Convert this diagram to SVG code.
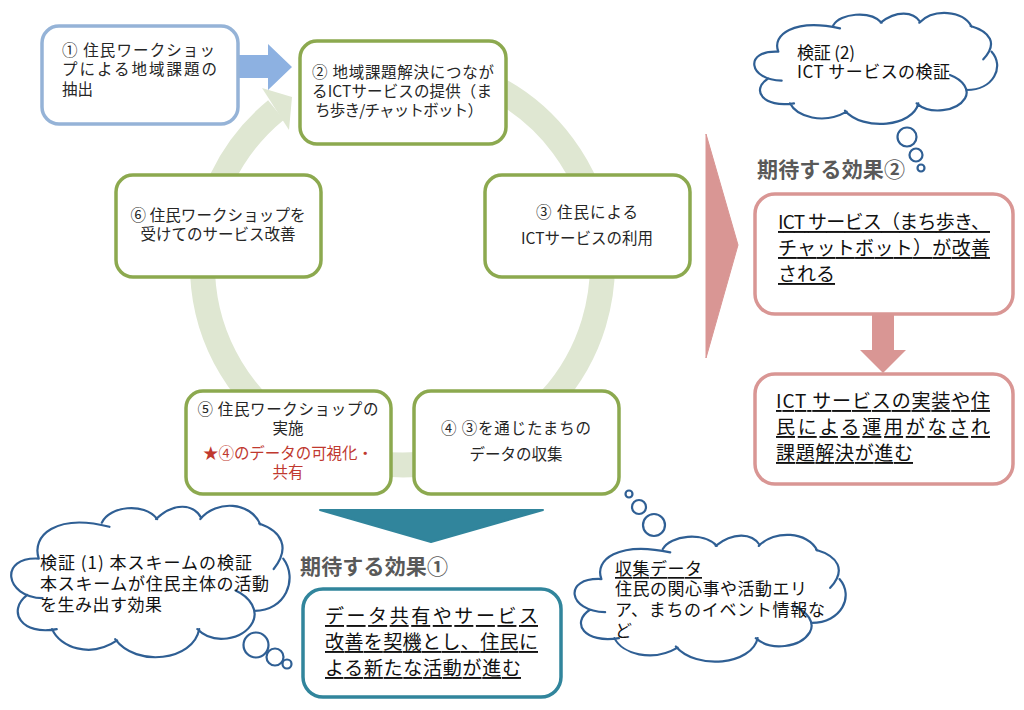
<svg xmlns="http://www.w3.org/2000/svg" width="1024" height="710" viewBox="0 0 1024 710">
<style>
text{font-family:"Noto Sans CJK JP","Liberation Sans",sans-serif;font-size:15.5px;fill:#262626;dominant-baseline:central;transform:translateY(-1.5px)}
.c{text-anchor:middle}
.g{fill:#fff;stroke:#8CA94F;stroke-width:3.5}
.p{fill:#fff;stroke:#D99694;stroke-width:3.5}
.cl{fill:#fff;stroke:none}
.ca{fill:none;stroke:#2F5F94;stroke-width:2.2;vector-effect:non-scaling-stroke;stroke-linecap:round}
.bub{fill:#fff;stroke:#2F5F94;stroke-width:2.2}
.big{font-size:19px;fill:#111;text-decoration:underline}
.ct{font-size:17px;fill:#111}
.ttl{font-size:21px;font-weight:700;fill:#595959}
</style>
<defs>
<g id="cloud">
<path class="cl" d="M235 155C215 105 280 55 400 78C420 40 510 30 545 65C590 30 640 35 660 65C700 25 790 30 815 80C870 95 895 130 875 155C915 200 880 270 800 270C800 310 710 350 650 325C610 390 480 395 435 335C370 375 290 350 270 310C190 320 160 270 205 235C145 225 150 150 235 155Z"/>
<path class="ca" d="M235 155C215 105 280 55 420 85M400 76C420 40 510 30 545 68M542 68C590 30 640 35 660 65M658 68C700 25 790 30 815 80M812 78C870 95 895 130 850 178M875 155C915 200 880 270 800 270M750 225C790 240 810 270 795 295C770 335 690 345 650 310M655 310C640 380 490 395 435 332M440 335C370 375 290 350 270 310M282 310C190 325 150 270 205 235M245 242C145 240 130 150 235 155"/>
</g>
</defs>
<g id="connectors">
<path d="M402 65A200 200 0 1 1 276 110" fill="none" stroke="#DFE7D2" stroke-width="25"/>
<path d="M262 88L292 97L289 130Z" fill="#DFE7D2"/>
<path d="M238 55H268V44L292 67L268 90V78H238Z" fill="#8DB1E1"/>
<path d="M706 134L738 245L706 358Z" fill="#D99694" stroke="#D99694" stroke-linejoin="round"/>
<path d="M872 311H894V350H906L883 373L860 350H872Z" fill="#D99694"/>
<path d="M320 510H543L431 542Z" fill="#31859C" stroke="#31859C" stroke-width="2" stroke-linejoin="round"/>
</g>
<g id="n1"><rect x="42" y="26" width="196" height="98" rx="17" fill="#fff" stroke="#95B3D7" stroke-width="3.5"/>
<text x="62" y="50" textLength="153">①  住民ワークショッ</text><text x="62" y="69" textLength="155">プによる地域課題の</text><text x="62" y="89">抽出</text></g>
<g id="n2"><rect x="300" y="41" width="206" height="103" rx="17" class="g"/>
<text x="312" y="72" textLength="182">②  地域課題解決につなが</text><text x="312" y="91" textLength="180">るICTサービスの提供（ま</text><text x="315" y="110" textLength="168">ち歩き/チャットボット）</text></g>
<g id="n3"><rect x="485" y="175" width="205" height="102" rx="17" class="g"/>
<text class="c" x="587" y="212" textLength="102">③ 住民による</text><text class="c" x="587" y="238">ICTサービスの利用</text></g>
<g id="n4"><rect x="414" y="391" width="205" height="103" rx="17" class="g"/>
<text class="c" x="516" y="428" textLength="150">④  ③を通じたまちの</text><text class="c" x="516" y="454">データの収集</text></g>
<g id="n5"><rect x="186" y="391" width="205" height="103" rx="17" class="g"/>
<text class="c" x="288" y="409" textLength="181">⑤  住民ワークショップの</text><text class="c" x="288" y="428">実施</text>
<text class="c" x="288" y="453" textLength="170" style="fill:#C0392F">★④のデータの可視化・</text><text class="c" x="288" y="472" style="fill:#C0392F">共有</text></g>
<g id="n6"><rect x="116" y="175" width="205" height="102" rx="17" class="g"/>
<text class="c" x="218" y="215" textLength="175">⑥ 住民ワークショップを</text><text class="c" x="218" y="234">受けてのサービス改善</text></g>
<g id="e2"><text class="ttl" x="757" y="169" textLength="148">期待する効果②</text>
<rect x="755" y="194" width="258" height="120" rx="20" class="p"/>
<text class="big" x="778" y="222" textLength="212">ICT サービス（まち歩き、</text><text class="big" x="778" y="248" textLength="212">チャットボット）が改善</text><text class="big" x="778" y="274">される</text></g>
<g id="e3"><rect x="755" y="374" width="258" height="110" rx="20" class="p"/>
<text class="big" x="776" y="401" textLength="214">ICT サービスの実装や住</text><text class="big" x="776" y="427" textLength="214">民による運用がなされ</text><text class="big" x="776" y="453" textLength="137">課題解決が進む</text></g>
<g id="e1"><text class="ttl" x="300" y="566" textLength="148">期待する効果①</text>
<rect x="303" y="589" width="258" height="108" rx="20" fill="#fff" stroke="#31859C" stroke-width="3.5"/>
<text class="big" x="325" y="616" textLength="213">データ共有やサービス</text><text class="big" x="325" y="642" textLength="213">改善を契機とし、住民に</text><text class="big" x="325" y="668" textLength="196">よる新たな活動が進む</text></g>
<g id="c1"><use href="#cloud" transform="translate(700 0) scale(.3333)"/>
<circle class="bub" cx="907" cy="137" r="9.5"/><circle class="bub" cx="916" cy="155" r="6.5"/><circle class="bub" cx="921" cy="168" r="3.5"/>
<text class="ct" x="797" y="53" textLength="58">検証 (2)</text><text class="ct" x="797" y="72" textLength="153">ICT サービスの検証</text></g>
<g id="c2"><use href="#cloud" transform="translate(-51 488.1) scale(.382 .4548)"/>
<circle class="bub" cx="256" cy="645" r="12.5"/><circle class="bub" cx="275" cy="657" r="8.5"/><circle class="bub" cx="287" cy="664" r="4.5"/>
<text class="ct" x="40" y="563" textLength="212">検証 (1)  本スキームの検証</text><text class="ct" x="40" y="584" textLength="229">本スキームが住民主体の活動</text><text class="ct" x="40" y="605" textLength="122">を生み出す効果</text></g>
<g id="c3"><use href="#cloud" transform="translate(514 520) scale(.372 .381)"/>
<circle class="bub" cx="629" cy="494" r="3.5"/><circle class="bub" cx="639" cy="507" r="7"/><circle class="bub" cx="654" cy="525" r="11"/>
<text class="ct" x="615" y="569" textLength="87" style="text-decoration:underline">収集データ</text><text class="ct" x="615" y="589" textLength="192">住民の関心事や活動エリ</text><text class="ct" x="615" y="610" textLength="210">ア、まちのイベント情報な</text><text class="ct" x="615" y="631">ど</text></g>
</svg>
